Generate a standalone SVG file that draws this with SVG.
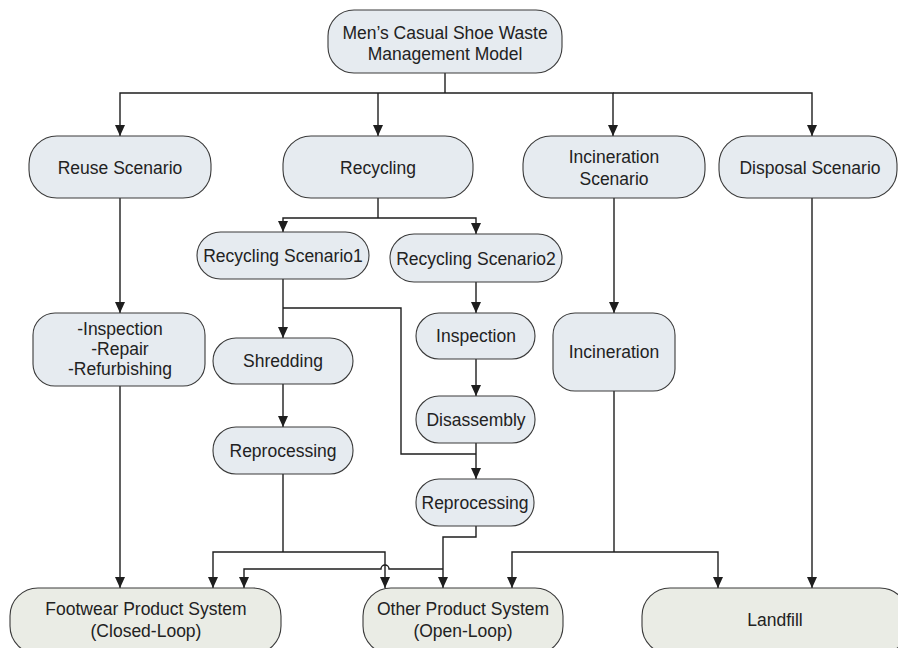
<svg xmlns="http://www.w3.org/2000/svg" width="898" height="648" viewBox="0 0 898 648">
<defs>
<marker id="ah" viewBox="0 0 11 10" refX="11" refY="5" markerWidth="11" markerHeight="10" markerUnits="userSpaceOnUse" orient="auto">
<path d="M0,0 L11,5 L0,10 z" fill="#1e1e1e"/>
</marker>
<style>
.n rect{fill:#e6ebf0;stroke:#3a3a3a;stroke-width:1.1}
.b rect{fill:#eaece5;stroke:#3a3a3a;stroke-width:1.1}
text{font-family:"Liberation Sans",Arial,sans-serif;font-size:17.5px;fill:#222;text-anchor:middle}
#connectors path{fill:none;stroke:#1e1e1e;stroke-width:1.4}
.a{marker-end:url(#ah)}
</style>
</defs>
<rect width="898" height="648" fill="#fff"/>

<g id="connectors">
<path d="M445,73 V93"/>
<path class="a" d="M445,93 H120 V136"/>
<path class="a" d="M378,93 V136"/>
<path class="a" d="M445,93 H613 V136"/>
<path class="a" d="M613,93 H812 V136"/>
<path d="M378,198 V218"/>
<path class="a" d="M378,218 H283 V232"/>
<path class="a" d="M378,218 H476 V234"/>
<path class="a" d="M283,279 V338"/>
<path d="M283,308 H401 V454 H476"/>
<path class="a" d="M476,282 V313"/>
<path class="a" d="M476,359 V396"/>
<path class="a" d="M476,443 V479"/>
<path class="a" d="M283,384 V427"/>
<path d="M283,474 V552"/>
<path class="a" d="M283,552 H213 V588"/>
<path class="a" d="M283,552 H385 V588"/>
<path class="a" d="M476,526 V537 H443 V588"/>
<path class="a" d="M443,569 H389 A4,4 0 0 0 381,569 H244 V588"/>
<path class="a" d="M120,198 V313"/>
<path class="a" d="M120,386 V588"/>
<path class="a" d="M614,198 V313"/>
<path d="M614,391 V552"/>
<path class="a" d="M614,552 H512 V588"/>
<path class="a" d="M614,552 H718 V588"/>
<path class="a" d="M812,198 V588"/>
</g>

<g id="root" class="n"><rect x="328" y="10" width="234" height="63" rx="26"/><text x="445" y="39">Men’s Casual Shoe Waste</text><text x="445" y="60">Management Model</text></g>
<g id="reuse" class="n"><rect x="29" y="136" width="182" height="62" rx="28"/><text x="120" y="174">Reuse Scenario</text></g>
<g id="recycling" class="n"><rect x="283" y="136" width="190" height="62" rx="28"/><text x="378" y="174">Recycling</text></g>
<g id="incinerationScenario" class="n"><rect x="523" y="136" width="182" height="62" rx="28"/><text x="614" y="163">Incineration</text><text x="614" y="185">Scenario</text></g>
<g id="disposal" class="n"><rect x="719" y="136" width="178" height="62" rx="28"/><text x="810" y="174">Disposal Scenario</text></g>
<g id="rs1" class="n"><rect x="197" y="232" width="172" height="47" rx="23.5"/><text x="283" y="262">Recycling Scenario1</text></g>
<g id="rs2" class="n"><rect x="390" y="234" width="172" height="48" rx="24"/><text x="476" y="265">Recycling Scenario2</text></g>
<g id="repair" class="n"><rect x="33" y="313" width="172" height="73" rx="22"/><text x="120" y="335">-Inspection</text><text x="120" y="355">-Repair</text><text x="120" y="375">-Refurbishing</text></g>
<g id="shredding" class="n"><rect x="213" y="338" width="140" height="46" rx="23"/><text x="283" y="367">Shredding</text></g>
<g id="inspection" class="n"><rect x="416" y="313" width="119" height="46" rx="23"/><text x="476" y="342">Inspection</text></g>
<g id="incineration" class="n"><rect x="553" y="313" width="122" height="78" rx="22"/><text x="614" y="358">Incineration</text></g>
<g id="disassembly" class="n"><rect x="416" y="396" width="119" height="47" rx="23"/><text x="476" y="426">Disassembly</text></g>
<g id="reprocessing1" class="n"><rect x="213" y="427" width="140" height="47" rx="23"/><text x="283" y="457">Reprocessing</text></g>
<g id="reprocessing2" class="n"><rect x="416" y="479" width="118" height="47" rx="23"/><text x="475" y="509">Reprocessing</text></g>
<g id="footwear" class="b"><rect x="10" y="588" width="271" height="66" rx="28"/><text x="146" y="615">Footwear Product System</text><text x="146" y="637">(Closed-Loop)</text></g>
<g id="other" class="b"><rect x="363" y="588" width="200" height="66" rx="28"/><text x="463" y="615">Other Product System</text><text x="463" y="637">(Open-Loop)</text></g>
<g id="landfill" class="b"><rect x="642" y="588" width="266" height="66" rx="28"/><text x="775" y="626">Landfill</text></g>
</svg>
